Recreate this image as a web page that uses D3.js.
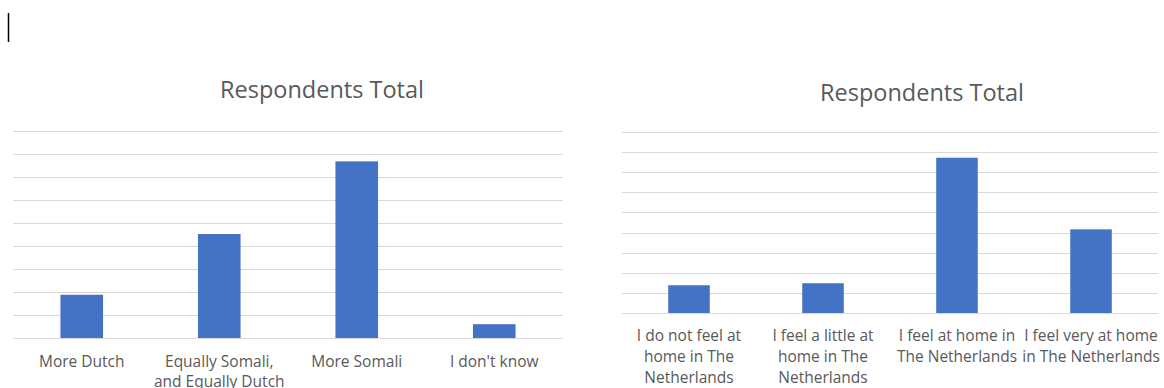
<!DOCTYPE html>
<html>
  <head>
    <meta charset="utf-8">
    <script src="https://cdn.jsdelivr.net/npm/d3@7"></script>
    <style type="text/css">
      body { margin: 0; background: #ffffff; }
      svg { display: block; }
      .grid line { stroke: #d9d9d9; stroke-width: 1; shape-rendering: crispEdges; }
      .grid path { display: none; }
      .title { font-family: "Open Sans", sans-serif; font-size: 23.5px; fill: #595959; }
      .xlab { font-family: "Open Sans", sans-serif; font-size: 15.5px; fill: #595959; }
    </style>
  </head>
  <body>
    <div class="plot_canvas"></div>
    <script>
      var col_bar = "#4472C4";

      // left chart
      var leftTitle = "Respondents Total";
      var leftCats = ["More Dutch", "Equally Somali, and Equally Dutch", "More Somali", "I don't know"];
      var leftLabels = [["More Dutch"], ["Equally Somali,", "and Equally Dutch"], ["More Somali"], ["I don't know"]];
      var leftValues = [9.4, 22.6, 38.4, 3.0];

      // right chart
      var rightTitle = "Respondents Total";
      var rightCats = ["I do not feel at home in The Netherlands", "I feel a little at home in The Netherlands",
                       "I feel at home in The Netherlands", "I feel very at home in The Netherlands"];
      var rightLabels = [["I do not feel at", "home in The", "Netherlands"],
                         ["I feel a little at", "home in The", "Netherlands"],
                         ["I feel at home in", "The Netherlands"],
                         ["I feel very at home", "in The Netherlands"]];
      var rightValues = [6.9, 7.4, 38.6, 20.8];

      var yTicks = [0, 5, 10, 15, 20, 25, 30, 35, 40, 45];

      var svg = d3.select(".plot_canvas")
      .append("svg")
      .attr("width", 1164)
      .attr("height", 388);

      // text cursor at top left
      svg.append("line")
      .attr("x1", 8.5).attr("x2", 8.5)
      .attr("y1", 13).attr("y2", 42)
      .attr("stroke", "#000").attr("stroke-width", 1.5);

      function drawChart(cfg) {
        var g = svg.append("g");

        var xScale = d3.scaleBand()
        .domain(cfg.cats)
        .range([cfg.x0, cfg.x1])
        .paddingInner(0.69)
        .paddingOuter(0.345);

        var yScale = d3.scaleLinear()
        .domain([0, 45])
        .range([cfg.y0, cfg.y1]);

        g.append("g")
        .attr("class", "grid")
        .attr("transform", "translate(" + cfg.x0 + ",0)")
        .call(d3.axisLeft(yScale).tickValues(yTicks).tickSize(-(cfg.x1 - cfg.x0)).tickFormat(""));

        g.append("g").selectAll("rect")
        .data(cfg.values).enter()
        .append("rect")
        .attr("x", function (d, i) { return xScale(cfg.cats[i]); })
        .attr("y", function (d) { return yScale(d); })
        .attr("width", xScale.bandwidth())
        .attr("height", function (d) { return yScale(0) - yScale(d); })
        .attr("fill", col_bar);

        var labs = g.append("g").selectAll("text")
        .data(cfg.labels).enter()
        .append("text")
        .attr("class", "xlab")
        .attr("text-anchor", "middle")
        .attr("x", function (d, i) { return xScale(cfg.cats[i]) + xScale.bandwidth() / 2; })
        .attr("y", cfg.labelY);
        labs.selectAll("tspan")
        .data(function (d) { return d; }).enter()
        .append("tspan")
        .attr("x", function () { return d3.select(this.parentNode).attr("x"); })
        .attr("dy", function (d, i) { return i == 0 ? 0 : cfg.lineH; })
        .text(function (d) { return d; });

        g.append("text")
        .attr("class", "title")
        .attr("text-anchor", "middle")
        .attr("x", cfg.titleX)
        .attr("y", cfg.titleY)
        .text(cfg.title);
      }

      drawChart({cats: leftCats, labels: leftLabels, values: leftValues, title: leftTitle,
                 x0: 13, x1: 563, y0: 338, y1: 131, labelY: 367, lineH: 20, titleX: 322, titleY: 98});
      drawChart({cats: rightCats, labels: rightLabels, values: rightValues, title: rightTitle,
                 x0: 622, x1: 1158, y0: 313, y1: 132, labelY: 341, lineH: 21, titleX: 922, titleY: 101});
    </script>
  </body>
</html>
